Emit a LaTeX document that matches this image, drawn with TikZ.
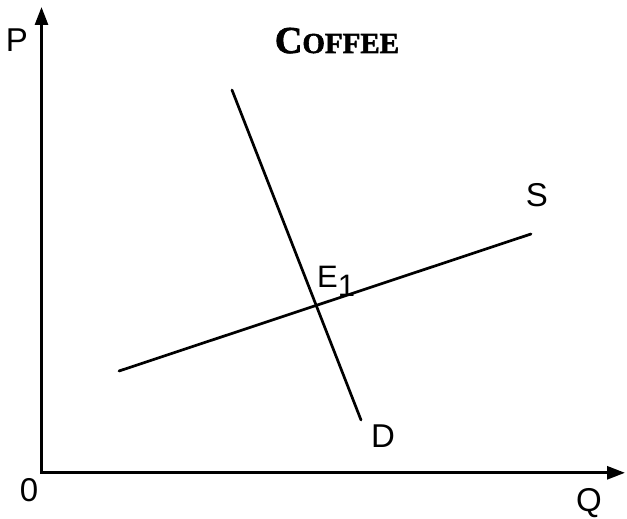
\documentclass[tikz,border=0pt]{standalone}
\usepackage{fontspec}
\setmainfont{Liberation Sans}
\newfontfamily\titlefont[BoldFeatures={FakeBold=2}]{Liberation Serif}
\usetikzlibrary{arrows.meta}
\begin{document}
\begin{tikzpicture}[x=1pt,y=-1pt,
  axis/.style={line width=2.8pt,-{Triangle[length=18pt,width=13pt]}},
  curve/.style={line width=2.7pt,line cap=round},
  lbl/.style={font=\fontsize{33}{33}\selectfont,inner sep=0pt}]
\useasboundingbox (0,0) rectangle (627,519);
\coordinate (O) at (41.5,472.8);
\coordinate (Ptop) at (41.5,7);
\coordinate (Qend) at (625,472.8);
\draw[axis] (O) -- (Ptop);
\draw[axis] ([xshift=-1.4pt]O) -- (Qend);
\coordinate (d1) at (232,90);
\coordinate (d2) at (361,420);
\coordinate (s1) at (119,371);
\coordinate (s2) at (531,234);
\draw[curve] (d1) -- (d2);
\draw[curve] (s1) -- (s2);
\node[lbl] (P) at (17,40) {P};
\node[lbl] (Q) at (589,503) {Q};
\node[lbl] (zero) at (29,490) {0};
\node[lbl] (S) at (537,195.5) {S};
\node[lbl] (D) at (383,436.5) {D};
\node[lbl,font=\fontsize{31}{31}\selectfont,anchor=base west] (E) at (317,287) {E\raisebox{-9pt}{1}};
\node[inner sep=0pt,anchor=base,font=\titlefont\bfseries] (T) at (337,53) {{\fontsize{38}{38}\selectfont C}{\fontsize{29}{29}\selectfont OFFEE}};
\end{tikzpicture}
\end{document}
